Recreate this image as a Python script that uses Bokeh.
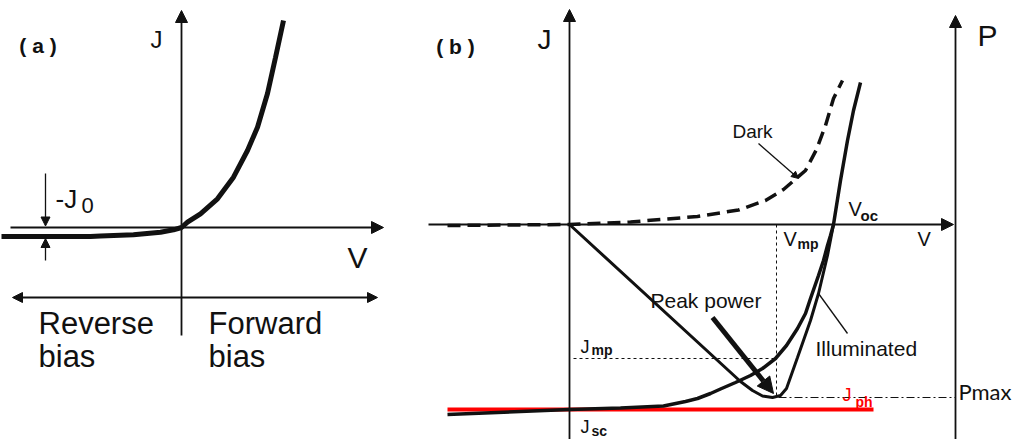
from bokeh.plotting import figure
from bokeh.layouts import row
from bokeh.models import Range1d, Label, Arrow, NormalHead
from bokeh.embed import file_html
from bokeh.resources import INLINE

# ---------------- data (arbitrary units, origin at the axes' crossing) ----------------
# Panel (a): diode J-V curve
a_v = [-18.0, -9.1, -8.1, -4.8, -2.1, -0.8, 0.0, 0.6, 1.9, 3.6, 5.2, 6.6, 7.6, 8.6, 9.4, 10.2]
a_j = [-0.9, -0.9, -0.85, -0.73, -0.47, -0.23, 0.0, 0.53, 1.37, 2.87, 5.03, 7.7, 10.03, 13.4, 17.0, 20.7]
A_J0 = -1.1

# Panel (b): dark, illuminated and power curves
dark_v = [-12.2, 0.0, 6.1, 12.8, 16.9, 19.6, 21.4, 23.6, 24.7, 25.6, 26.4, 27.3]
dark_j = [-0.1, 0.0, 0.25, 0.8, 1.45, 2.4, 3.5, 5.4, 7.5, 9.9, 12.6, 14.4]
illum_v = [-12.2, 0.0, 5.1, 9.4, 11.6, 12.8, 14.1, 15.1, 16.6, 18.1, 19.3, 20.6, 21.7, 22.8,
           23.6, 24.1, 24.9, 25.4, 25.8, 26.1, 26.4, 27.1, 27.8, 28.4, 29.1]
illum_j = [-19.0, -18.5, -18.35, -18.15, -17.7, -17.4, -16.9, -16.45, -15.8, -15.1, -14.4, -13.4,
           -12.1, -10.4, -8.9, -7.4, -5.1, -3.6, -2.1, -1.1, 0.0, 4.4, 8.4, 11.4, 14.2]
power_v = [0.0, 17.1, 18.3, 19.3, 20.3, 21.1, 21.7, 22.8, 24.1, 24.9, 25.8, 26.4]
power_p = [0.0, -15.7, -16.6, -17.15, -17.3, -17.1, -16.4, -13.3, -9.6, -6.9, -3.1, 0.0]
JPH = -18.5
JPH_V = [-12.2, 30.4]
JMP = -13.4
VMP = 20.7
PMAX = -17.3
VOC = 26.4
P_AXIS_V = 38.6

FONT = "Liberation Sans"
INK = "#111111"
RED = "#ff0000"
PX_PER_UNIT = 10.0
BASELINE_FIX = 0.33   # fraction of the font size by which labels are lifted


def make_fig(w, x0, x1, y0, y1):
    p = figure(width=w, height=439, x_range=Range1d(x0, x1), y_range=Range1d(y0, y1),
               x_axis_type=None, y_axis_type=None, toolbar_location=None,
               output_backend="svg", min_border=0)
    p.grid.visible = False
    p.outline_line_color = None
    p.background_fill_color = "white"
    return p


def label(p, x, y, text, size, color=INK, bold=False, align="left", font=FONT):
    p.add_layout(Label(x=x, y=y, y_offset=BASELINE_FIX * size, text=text, text_font=font,
                       text_font_size=f"{size}px", text_color=color,
                       text_font_style="bold" if bold else "normal",
                       text_align=align, text_baseline="alphabetic"))


def arrow(p, xs, ys, xe, ye, width=1.8, head=12, start_head=None, color=INK):
    kw = {}
    if start_head:
        kw["start"] = NormalHead(size=start_head, fill_color=color, line_color=color, line_width=1)
    p.add_layout(Arrow(end=NormalHead(size=head, fill_color=color, line_color=color, line_width=1),
                       x_start=xs, y_start=ys, x_end=xe, y_end=ye,
                       line_width=width, line_color=color, **kw))


# ---------------- panel (a) ----------------
pa = make_fig(418, -18.1, 23.7, -21.2, 22.7)
arrow(pa, 0, -10.8, 0, 21.7, width=1.8, head=12)           # J axis
arrow(pa, -17.1, 0, 20.2, 0, width=1.8, head=12)           # V axis
arrow(pa, -16.9, -7.0, 19.6, -7.0, width=1.8, head=10, start_head=10)  # bias arrow
arrow(pa, -13.6, 5.4, -13.6, 0.15, width=1.3, head=9)     # -J0 marker (top)
arrow(pa, -13.6, -3.3, -13.6, A_J0, width=1.3, head=9)    # -J0 marker (bottom)
pa.line(a_v, a_j, line_width=5, line_color=INK)

label(pa, -14.35, 17.5, "( a )", 21, bold=True, align="center")
label(pa, -3.1, 18.0, "J", 24)
label(pa, 16.6, -4.0, "V", 30)
label(pa, -12.6, 2.0, "-J", 26)
label(pa, -10.0, 1.5, "0", 22)
label(pa, -14.3, -10.6, "Reverse", 31)
label(pa, -14.3, -13.9, "bias", 31)
label(pa, 2.7, -10.6, "Forward", 31)
label(pa, 2.7, -13.9, "bias", 31)

# ---------------- panel (b) ----------------
pb = make_fig(598, -15.1, 44.7, -21.5, 22.4)
arrow(pb, 0, -21.5, 0, 21.5, width=1.8, head=12)            # J axis
arrow(pb, -14.1, 0, 38.4, 0, width=1.8, head=12)            # V axis
arrow(pb, P_AXIS_V, -21.5, P_AXIS_V, 20.9, width=1.8, head=12)  # P axis

# guide lines
pb.line([0.4, VMP], [JMP, JMP], line_width=1, line_color=INK, line_dash="3 3")
pb.line([VMP, VMP], [0, PMAX + 0.2], line_width=1, line_color=INK, line_dash="3 3")
pb.line([VMP + 0.2, P_AXIS_V], [PMAX, PMAX], line_width=1, line_color=INK, line_dash="8 3 2 3")

# photocurrent level
pb.line(JPH_V, [JPH, JPH], line_width=4, line_color=RED)

# curves
pb.line(dark_v, dark_j, line_width=3.5, line_color=INK, line_dash="13 7")
pb.line(illum_v, illum_j, line_width=3.5, line_color=INK)
pb.line(power_v, power_p, line_width=3, line_color=INK)

# pointers
arrow(pb, 14.3, -9.3, 20.4, -16.9, width=5, head=16)        # peak power
arrow(pb, 18.9, 8.1, 22.9, 4.6, width=1.3, head=7)          # dark
pb.line([27.8, 24.9], [-10.9, -6.9], line_width=1.3, line_color=INK)  # illuminated

label(pb, -11.4, 17.1, "( b )", 21, bold=True, align="center")
label(pb, -3.2, 17.6, "J", 28)
label(pb, 40.8, 17.9, "P", 30)
label(pb, 16.3, 8.7, "Dark", 19)
label(pb, 27.9, 0.9, "V", 20)
label(pb, 29.1, 0.4, "oc", 15, bold=True)
label(pb, 21.4, -2.1, "V", 20)
label(pb, 22.8, -2.4, "mp", 14, bold=True)
label(pb, 34.8, -2.1, "V", 20)
label(pb, 8.1, -8.3, "Peak power", 21)
label(pb, 1.1, -12.8, "J", 18)
label(pb, 2.2, -13.0, "mp", 14, bold=True)
label(pb, 1.1, -20.8, "J", 18)
label(pb, 2.2, -21.1, "sc", 14, bold=True)
label(pb, 27.3, -17.6, "J", 18, color=RED)
label(pb, 28.6, -18.2, "ph", 14, color=RED, bold=True)
label(pb, 24.6, -13.1, "Illuminated", 21)
label(pb, 38.9, -17.4, "Pmax", 22, font="Lato")

layout = row(pa, pb)
open("out.html", "w").write(file_html(layout, INLINE))
